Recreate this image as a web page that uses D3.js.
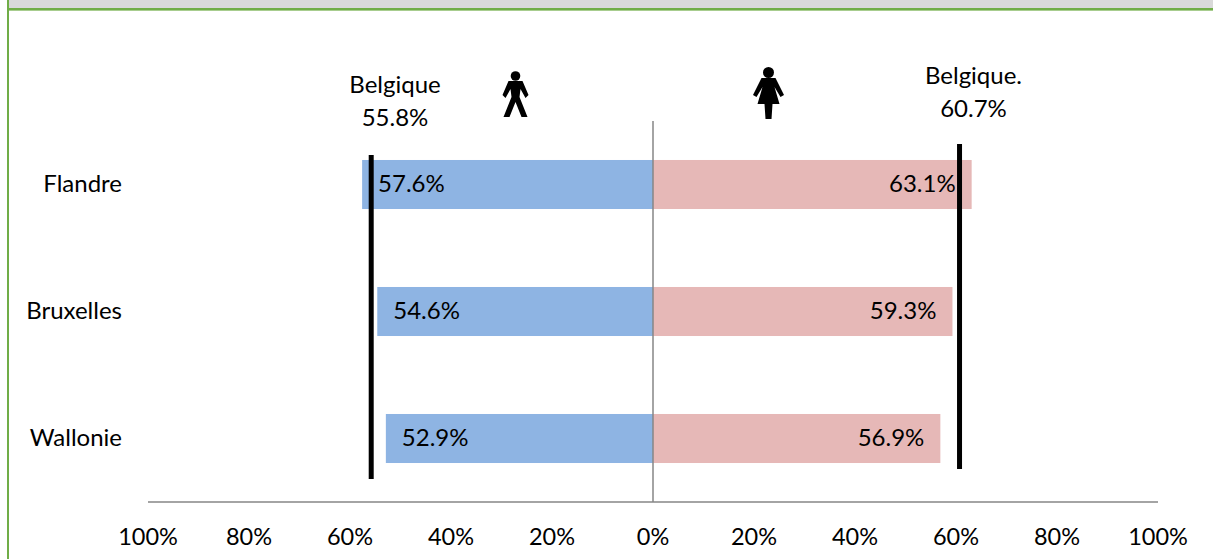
<!DOCTYPE html>
<html><head><meta charset="utf-8">
<script src="https://cdn.jsdelivr.net/npm/d3@7/dist/d3.min.js"></script>
<style>html,body{margin:0;padding:0;background:#fff}svg{display:block}text{font-family:Lato,"Open Sans",sans-serif;fill:#000;font-size:24px}</style>
</head><body><svg id="c" width="1213" height="559"></svg>
<script>
const regions=["Flandre","Bruxelles","Wallonie"];
const men=[57.6,54.6,52.9];
const women=[63.1,59.3,56.9];
const belgiumMen=55.8, belgiumWomen=60.7;
const tickValues=[-100,-80,-60,-40,-20,0,20,40,60,80,100];
const svg=d3.select("#c");
const x=d3.scaleLinear().domain([-100,100]).range([148,1158]);
const y=d3.scaleBand().domain(regions).range([121,502]).paddingInner(0.614).paddingOuter(0.307);
const fmt=v=>v.toFixed(1)+"%";
// frame
svg.append("rect").attr("x",8).attr("y",0).attr("width",1205).attr("height",8).attr("fill","#d9d9d9");
svg.append("rect").attr("x",7).attr("y",8).attr("width",1206).attr("height",2.6).attr("fill","#70ad47");
svg.append("rect").attr("x",7).attr("y",0).attr("width",2).attr("height",559).attr("fill","#70ad47");
// bars
svg.selectAll(".m").data(regions).join("rect").attr("x",(d,i)=>x(-men[i])).attr("y",d=>y(d)).attr("width",(d,i)=>x(0)-x(-men[i])).attr("height",y.bandwidth()).attr("fill","#8eb4e3");
svg.selectAll(".w").data(regions).join("rect").attr("x",x(0)).attr("y",d=>y(d)).attr("width",(d,i)=>x(women[i])-x(0)).attr("height",y.bandwidth()).attr("fill","#e6b8b7");
// axes lines
const axisCol="#868686";
svg.append("line").attr("x1",x(0)).attr("x2",x(0)).attr("y1",121).attr("y2",502).attr("stroke",axisCol).attr("stroke-width",1.5);
svg.append("line").attr("x1",x(-100)).attr("x2",x(100)).attr("y1",502).attr("y2",502).attr("stroke",axisCol).attr("stroke-width",1.5);
// tick labels
svg.selectAll(".t").data(tickValues).join("text").attr("x",d=>x(d)).attr("y",545).attr("text-anchor","middle").style("font-size","23.5px").text(d=>Math.abs(d)+"%");
// region labels
svg.selectAll(".r").data(regions).join("text").attr("x",122).attr("y",d=>y(d)+y.bandwidth()/2+7.5).attr("text-anchor","end").text(d=>d);
// value labels
svg.selectAll(".vm").data(regions).join("text").attr("x",(d,i)=>x(-men[i])+16).attr("y",d=>y(d)+y.bandwidth()/2+7.5).text((d,i)=>fmt(men[i]));
svg.selectAll(".vw").data(regions).join("text").attr("x",(d,i)=>x(women[i])-16).attr("y",d=>y(d)+y.bandwidth()/2+7.5).attr("text-anchor","end").text((d,i)=>fmt(women[i]));
// Belgium reference lines
svg.append("line").attr("x1",x(-belgiumMen)).attr("x2",x(-belgiumMen)).attr("y1",155).attr("y2",479).attr("stroke","#000").attr("stroke-width",5);
svg.append("line").attr("x1",x(belgiumWomen)).attr("x2",x(belgiumWomen)).attr("y1",144).attr("y2",469).attr("stroke","#000").attr("stroke-width",5);
// Belgium labels
const lab=(cx,y0,a,b)=>{svg.append("text").attr("x",cx).attr("y",y0).attr("text-anchor","middle").text(a);svg.append("text").attr("x",cx).attr("y",y0+33).attr("text-anchor","middle").text(b);};
lab(395,93,"Belgique",fmt(belgiumMen));
lab(973.5,84,"Belgique.",fmt(belgiumWomen));
// pictograms
svg.append("g").attr("transform","translate(515.5,71)").call(g=>{
  g.append("circle").attr("cx",0).attr("cy",5).attr("r",4.8).attr("fill","#000");
  g.append("path").attr("fill","#000").attr("d","M-7,10 L7,10 L13,24 L10,27 L5,18 L4,26 L12,46 L6,46 L0,31 L-6,46 L-12,46 L-4,26 L-5,18 L-10,27 L-13,24 Z");
});
svg.append("g").attr("transform","translate(768.5,67)").call(g=>{
  g.append("circle").attr("cx",0).attr("cy",5.5).attr("r",5.5).attr("fill","#000");
  g.append("path").attr("fill","#000").attr("d","M-7,11 L7,11 L15.5,28 L12,30 L6,20 L11,37 L4,37 L3,52 L-3,52 L-4,37 L-11,37 L-6,20 L-12,30 L-15.5,28 Z");
});
</script></body></html>
